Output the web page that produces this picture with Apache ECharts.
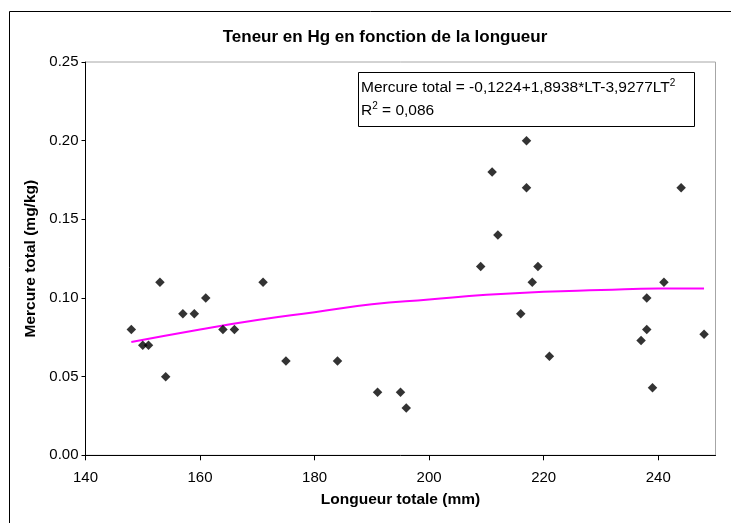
<!DOCTYPE html>
<html>
<head>
<meta charset="utf-8">
<script src="https://cdn.jsdelivr.net/npm/echarts@6/dist/echarts.min.js"></script>
<style>
html,body{margin:0;padding:0;background:#fff;}
#c{width:731px;height:523px;}
</style>
</head>
<body>
<div id="c"></div>
<script>
// Observed points: total length (mm) and total mercury (mg/kg)
var lengths = [148,150,151,153,154,157,159,161,164,166,171,175,184,191,195,196,
               209,211,212,216,217,217,218,219,221,237,238,238,239,241,244,248];
var mercury = [0.08,0.07,0.07,0.11,0.05,0.09,0.09,0.10,0.08,0.08,0.11,0.06,0.06,0.04,0.04,0.03,
               0.12,0.18,0.14,0.09,0.20,0.17,0.11,0.12,0.063,0.073,0.10,0.08,0.043,0.11,0.17,0.077];
// Polynomial trend line
var trendX = [148,160,170,180,190,200,210,220,230,240,248];
var trendY = [0.072,0.080,0.086,0.091,0.096,0.099,0.102,0.104,0.105,0.106,0.106];
// Axes
var xMin = 140, xMax = 250, xStep = 20;
var yMin = 0, yMax = 0.25, yStep = 0.05;
var chartTitle = 'Teneur en Hg en fonction de la longueur';
var xTitle = 'Longueur totale (mm)';
var yTitle = 'Mercure total (mg/kg)';
var eqLine = 'Mercure total = -0,1224+1,8938*LT-3,9277LT';
var r2Value = '0,086';

var font = '"Liberation Sans", Arial, sans-serif';
var chart = echarts.init(document.getElementById('c'), null, {renderer:'canvas'});
var pts = lengths.map(function(x,i){return [x, mercury[i]];});
var trend = trendX.map(function(x,i){return [x, trendY[i]];});

chart.setOption({
  animation:false,
  backgroundColor:'#ffffff',
  textStyle:{fontFamily:font},
  title:{
    text:chartTitle, left:380, top:24, textAlign:'center',
    textStyle:{fontFamily:font, fontSize:17, fontWeight:'bold', color:'#000'}
  },
  grid:{left:85.5, top:62, right:15.5, bottom:67.7, show:true, borderColor:'#a6a6a6', borderWidth:1, backgroundColor:'#fff'},
  xAxis:{
    type:'value', min:xMin, max:xMax, interval:xStep,
    name:xTitle, nameLocation:'middle', nameGap:36,
    nameTextStyle:{fontFamily:font, fontSize:15.5, fontWeight:'bold', color:'#000'},
    axisLine:{show:true, onZero:false, lineStyle:{color:'#000', width:1}},
    axisTick:{show:true, inside:false, length:5, lineStyle:{color:'#000'}},
    axisLabel:{fontFamily:font, fontSize:15, color:'#000', margin:15, showMaxLabel:false},
    splitLine:{show:false}
  },
  yAxis:{
    type:'value', min:yMin, max:yMax, interval:yStep,
    name:yTitle, nameLocation:'middle', nameGap:47, nameRotate:90,
    nameTextStyle:{fontFamily:font, fontSize:15.5, fontWeight:'bold', color:'#000'},
    axisLine:{show:true, onZero:false, lineStyle:{color:'#000', width:1}},
    axisTick:{show:true, inside:false, length:4, lineStyle:{color:'#000'}},
    axisLabel:{fontFamily:font, fontSize:15, color:'#000', margin:7, formatter:function(v){return v.toFixed(2);}},
    splitLine:{show:false}
  },
  series:[
    {
      type:'line', data:trend, smooth:true, symbol:'none',
      lineStyle:{color:'#ff00ff', width:2}, z:2, silent:true
    },
    {
      type:'scatter', data:pts, symbol:'diamond', symbolSize:9.5,
      itemStyle:{color:'#000'}, z:3
    }
  ],
  graphic:[
    {type:'rect', shape:{x:9.5, y:11.5, width:760, height:560}, style:{fill:null, stroke:'#000', lineWidth:1}, z:100, silent:true},
    {type:'rect', shape:{x:358.5, y:72.5, width:336, height:54}, style:{fill:'#fff', stroke:'#000', lineWidth:1}, z:100},
    {type:'text', x:361, y:78, z:101, style:{
      text:'{a|'+eqLine+'}{s|2}',
      rich:{a:{fontFamily:font, fontSize:15.5, fill:'#000'}, s:{fontFamily:font, fontSize:10, fill:'#000', padding:[0,0,10,0]}},
      fill:'#000'}},
    {type:'text', x:361, y:101, z:101, style:{
      text:'{a|R}{s|2}{a| = '+r2Value+'}',
      rich:{a:{fontFamily:font, fontSize:15.5, fill:'#000'}, s:{fontFamily:font, fontSize:10, fill:'#000', padding:[0,0,10,0]}},
      fill:'#000'}}
  ]
});
</script>
</body>
</html>
